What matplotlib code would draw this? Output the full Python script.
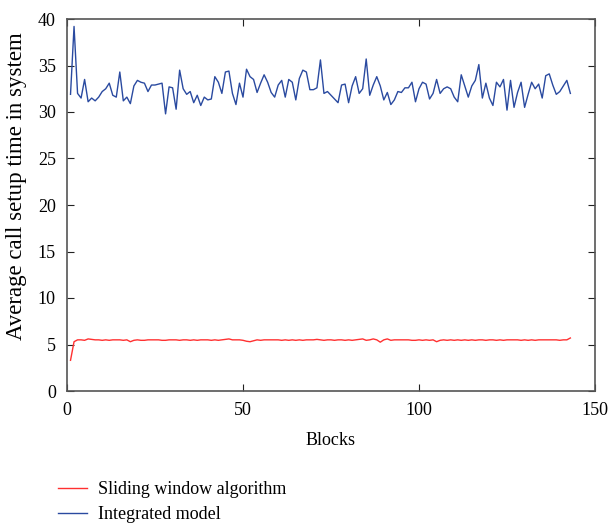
import matplotlib
matplotlib.use("Agg")
import matplotlib.pyplot as plt

plt.rcParams['font.family'] = ['Liberation Serif', 'DejaVu Serif']

blocks = list(range(1, 144))

integrated = [
    31.9, 39.2, 32.0, 31.5, 33.5, 31.1, 31.5, 31.2, 31.6, 32.2,
    32.5, 33.1, 31.8, 31.6, 34.3, 31.2, 31.6, 30.9, 32.8, 33.4,
    33.2, 33.1, 32.2, 32.9, 32.9, 33.0, 33.1, 29.8, 32.7, 32.6,
    30.3, 34.5, 32.5, 31.9, 32.2, 31.0, 31.8, 30.7, 31.6, 31.3,
    31.4, 33.8, 33.2, 32.0, 34.3, 34.4, 32.0, 30.8, 33.1, 31.6,
    34.6, 33.8, 33.5, 32.1, 33.1, 34.0, 33.2, 32.1, 31.6, 32.9,
    33.4, 31.6, 33.5, 33.2, 31.3, 33.6, 34.5, 34.3, 32.4, 32.4,
    32.6, 35.6, 32.0, 32.2, 31.8, 31.4, 31.0, 32.9, 33.0, 31.0,
    32.8, 33.8, 32.0, 32.5, 35.7, 31.8, 32.9, 33.8, 32.8, 31.3,
    32.1, 30.8, 31.3, 32.2, 32.1, 32.6, 32.6, 33.2, 31.1, 32.5,
    33.2, 33.0, 31.4, 32.0, 33.5, 32.0, 32.5, 32.7, 32.5, 31.6,
    31.1, 34.0, 32.8, 31.6, 32.8, 33.4, 35.1, 31.5, 33.1, 31.5,
    30.7, 33.2, 32.7, 33.5, 30.2, 33.4, 30.5, 32.1, 33.2, 30.5,
    31.9, 33.2, 32.5, 33.0, 31.5, 33.9, 34.1, 32.9, 31.9, 32.2,
    32.8, 33.4, 32.0,
]

sliding = [
    3.3, 5.3, 5.5, 5.5, 5.45, 5.6, 5.55, 5.5, 5.5, 5.45,
    5.5, 5.45, 5.5, 5.5, 5.5, 5.45, 5.5, 5.3, 5.45, 5.5,
    5.45, 5.45, 5.5, 5.5, 5.5, 5.5, 5.45, 5.45, 5.5, 5.5,
    5.5, 5.45, 5.5, 5.5, 5.45, 5.5, 5.45, 5.5, 5.5, 5.5,
    5.45, 5.5, 5.45, 5.5, 5.55, 5.6, 5.5, 5.5, 5.5, 5.45,
    5.35, 5.3, 5.4, 5.5, 5.45, 5.5, 5.5, 5.5, 5.5, 5.5,
    5.45, 5.5, 5.45, 5.5, 5.45, 5.5, 5.45, 5.5, 5.5, 5.5,
    5.55, 5.5, 5.45, 5.5, 5.5, 5.45, 5.5, 5.5, 5.45, 5.5,
    5.45, 5.5, 5.55, 5.6, 5.45, 5.5, 5.6, 5.5, 5.25, 5.5,
    5.6, 5.45, 5.5, 5.5, 5.5, 5.5, 5.5, 5.45, 5.45, 5.5,
    5.45, 5.5, 5.45, 5.5, 5.3, 5.45, 5.5, 5.45, 5.5, 5.45,
    5.5, 5.45, 5.5, 5.45, 5.5, 5.45, 5.5, 5.5, 5.45, 5.5,
    5.5, 5.45, 5.5, 5.45, 5.5, 5.5, 5.5, 5.5, 5.45, 5.5,
    5.45, 5.5, 5.45, 5.5, 5.5, 5.5, 5.5, 5.5, 5.5, 5.45,
    5.5, 5.5, 5.7,
]

xticks = [0, 50, 100, 150]
yticks = [0, 5, 10, 15, 20, 25, 30, 35, 40]

fig = plt.figure(figsize=(6.11, 5.24), dpi=100)
ax = fig.add_axes([67/611, 1 - 391/524, (595-67)/611, (391-19)/524])

ax.plot(blocks, sliding, color='#ff3030', lw=1.0, label='Sliding window algorithm')
ax.plot(blocks, integrated, color='#2a4aa0', lw=1.0, label='Integrated model')

ax.set_xlim(0, 150)
ax.set_ylim(0, 40)
ax.set_xticks(xticks)
ax.set_yticks(yticks)
ax.tick_params(direction='in', top=True, right=True, labelsize=13, length=5,
               color='#222222', width=0.8)
ax.tick_params(axis='x', pad=8)
ax.tick_params(axis='y', pad=8)
for s in ax.spines.values():
    s.set_color('#555555')
    s.set_linewidth(1.2)

ax.set_xlabel('Blocks', fontsize=13, labelpad=9)
ax.set_ylabel('Average call setup time in system', fontsize=16.5)
ax.yaxis.set_label_coords(-0.075, 0.55)

fig.legend(loc='upper left', bbox_to_anchor=(51/611, 1 - 474/524), frameon=False,
           fontsize=13, handlelength=1.6, handletextpad=0.6, labelspacing=0.45,
           borderaxespad=0)

fig.savefig('out.png', dpi=100)
